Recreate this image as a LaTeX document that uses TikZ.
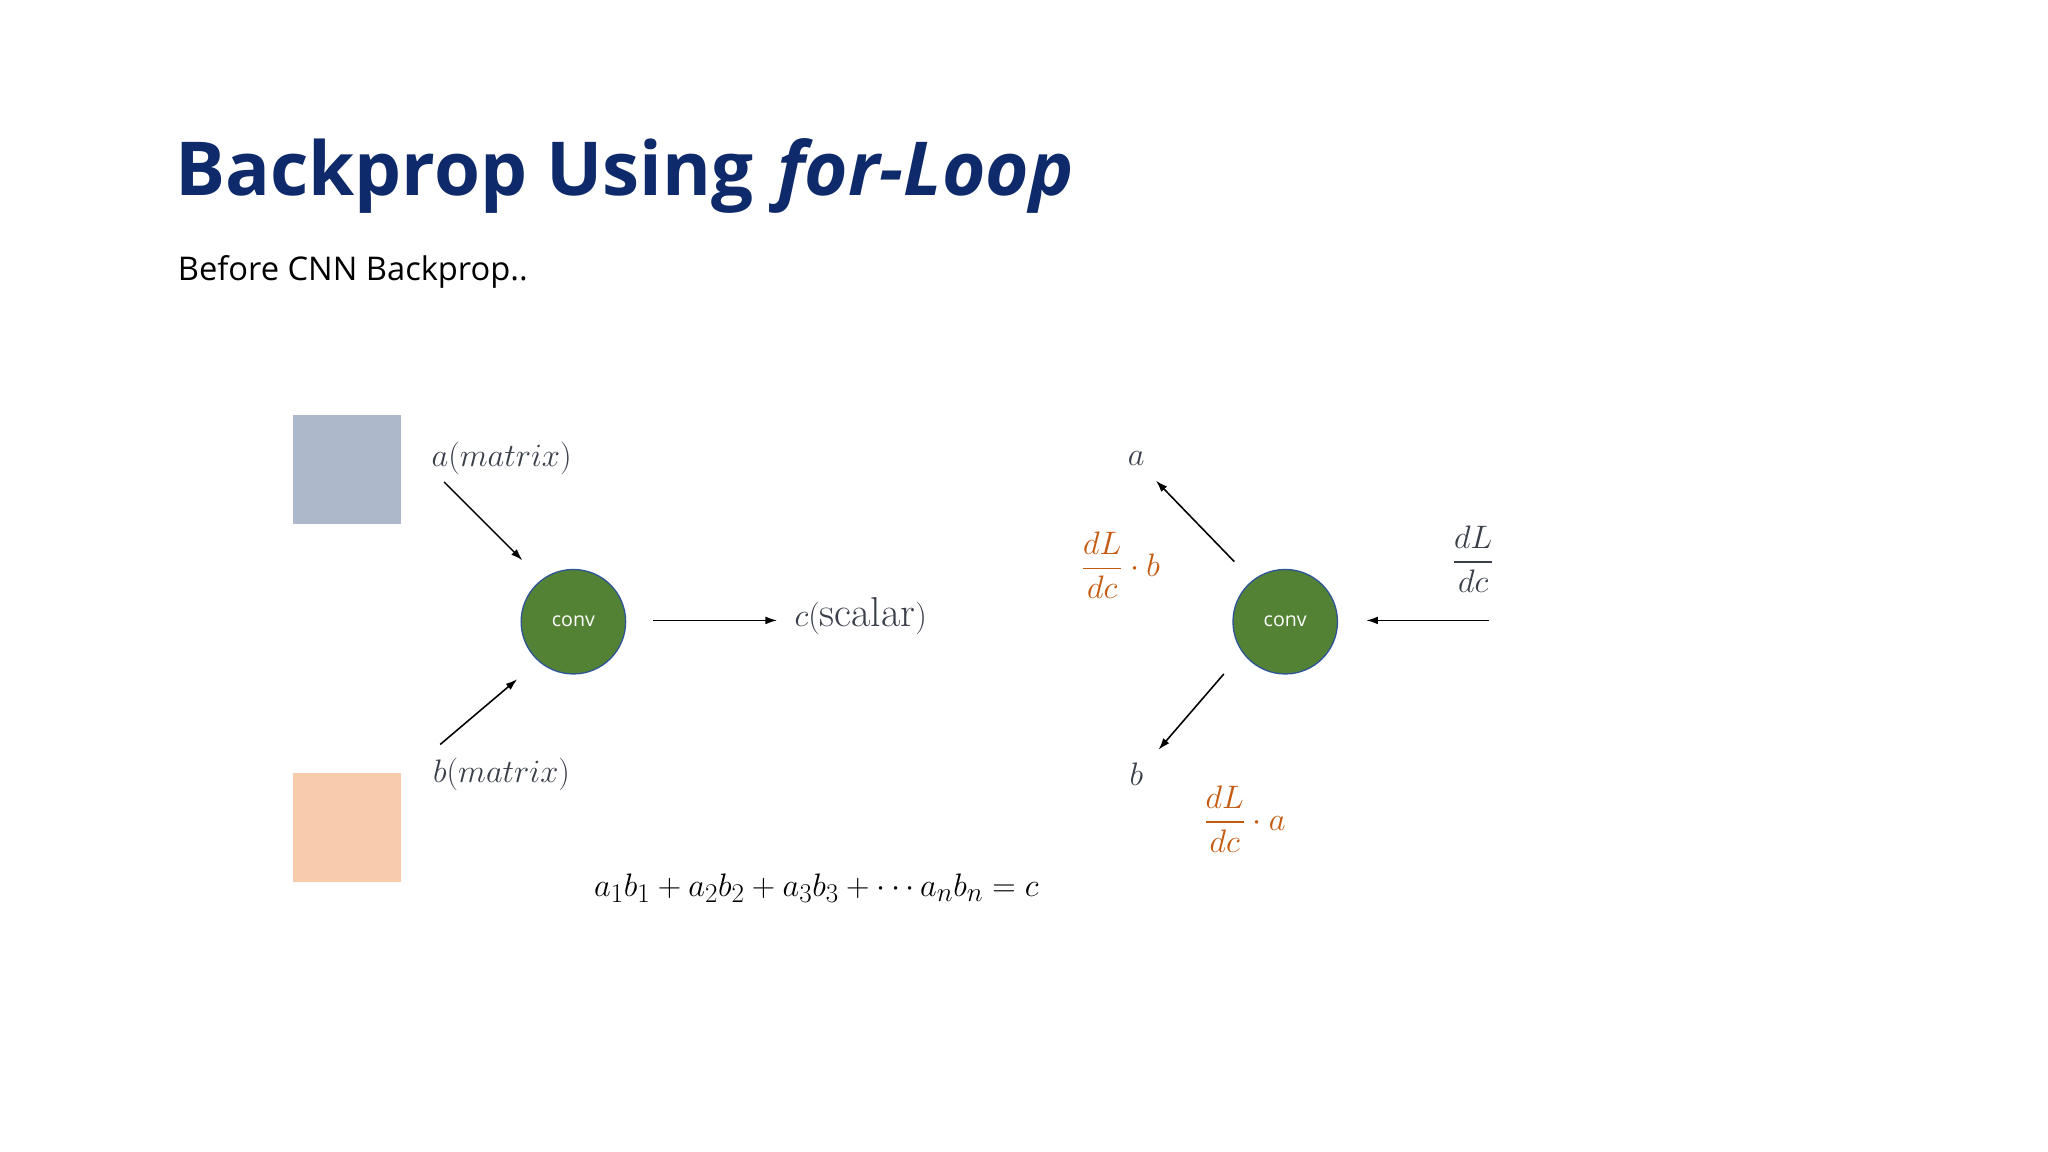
\documentclass[tikz,border=0pt]{standalone}
\usepackage{amsmath}
\usepackage{fontspec}
\setmainfont{Open Sans}
\newfontfamily\lmr{Latin Modern Roman}
\usetikzlibrary{arrows.meta}
\definecolor{navy}{HTML}{0F2A6B}
\definecolor{mgray}{HTML}{3A3F4A}
\definecolor{orng}{HTML}{C55A11}
\definecolor{grn}{HTML}{548235}
\definecolor{bord}{HTML}{2F5597}
\definecolor{sqa}{HTML}{ADB9CA}
\definecolor{sqb}{HTML}{F8CBAD}
\tikzset{
  convnode/.style={circle,fill=grn,draw=bord,line width=1pt,minimum size=80pt,inner sep=0pt,text=white,font=\fontsize{15}{18}\selectfont},
  sq/.style={minimum size=83pt,inner sep=0pt},
  lbl/.style={text=mgray,font=\fontsize{32}{38}\selectfont},
  olbl/.style={text=orng,font=\fontsize{32}{38}\selectfont},
  arr/.style={-{Latex[length=9pt,width=6pt]},line width=1.2pt,black}
}
\begin{document}
\begin{tikzpicture}[x=1pt,y=-1pt]
\useasboundingbox (0,0) rectangle (1568,882);
\fill[white] (0,0) rectangle (1568,882);
\node[anchor=base west,inner sep=0pt,text=navy,font=\fontsize{57}{68}\selectfont\bfseries] (title) at (134,150) {Backprop Using\hspace{18pt}\textit{for-Loop}};
\node[anchor=base west,inner sep=0pt,font=\fontsize{25}{30}\selectfont] (sub) at (136,215) {Before CNN Backprop..};
\node[sq,fill=sqa] (sa) at (265.5,359.5) {};
\node[sq,fill=sqb] (sb) at (265.5,633.5) {};
\node[convnode] (c1) at (439,476) {conv};
\node[convnode] (c2) at (984,476) {conv};
\node[lbl] (la) at (384,351) {$a(matrix)$};
\node[lbl] (lb) at (384,593) {$b(matrix)$};
\node[lbl] (lc) at (659,472) {$c(\text{\lmr scalar})$};
\node[lbl] (ra) at (870,351) {$a$};
\node[lbl] (rb) at (870,593) {$b$};
\node[lbl] (dldc) at (1128,428) {$\dfrac{dL}{dc}$};
\node[olbl] (ob) at (858,433) {$\dfrac{dL}{dc}\cdot b$};
\node[olbl] (oa) at (953,627) {$\dfrac{dL}{dc}\cdot a$};
\node[font=\fontsize{32}{38}\selectfont] (eq) at (625,680) {$a_1b_1+a_2b_2+a_3b_3+\cdots a_nb_n = c$};
\coordinate (p1) at (340,369); \coordinate (p2) at (400,429);
\coordinate (p3) at (337,570); \coordinate (p4) at (396,520);
\coordinate (p5) at (500,475); \coordinate (p6) at (595,475);
\coordinate (q1) at (945,430); \coordinate (q2) at (885,368);
\coordinate (q3) at (937,516); \coordinate (q4) at (887,574);
\coordinate (q5) at (1140,475); \coordinate (q6) at (1046,475);
\draw[arr] (p1) -- (p2);
\draw[arr] (p3) -- (p4);
\draw[arr] (p5) -- (p6);
\draw[arr] (q1) -- (q2);
\draw[arr] (q3) -- (q4);
\draw[arr] (q5) -- (q6);
\end{tikzpicture}
\end{document}
